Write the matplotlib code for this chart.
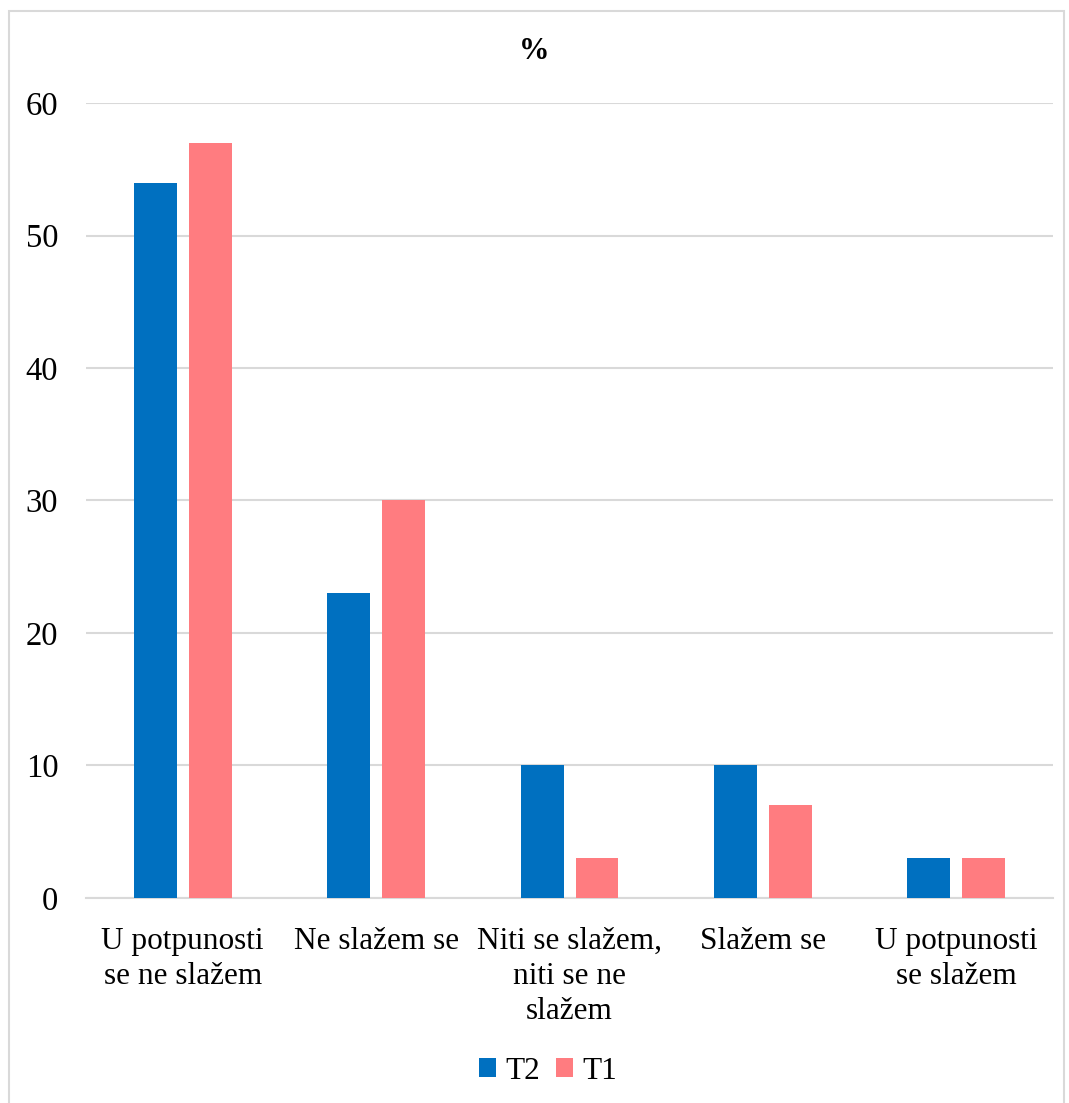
import matplotlib.pyplot as plt
import numpy as np
from matplotlib.patches import Rectangle

categories = ['U potpunosti\nse ne slažem', 'Ne slažem se',
              'Niti se slažem,\nniti se ne\nslažem', 'Slažem se',
              'U potpunosti\nse slažem']
t2_values = [54, 23, 10, 10, 3]
t1_values = [57, 30, 3, 7, 3]
y_ticks = [0, 10, 20, 30, 40, 50, 60]

plt.rcParams['font.family'] = ['Liberation Serif', 'DejaVu Serif']

fig = plt.figure(figsize=(10.69, 11.03), dpi=100)
ax = fig.add_axes([0.0805, 0.1859, 0.9045, 0.7207])

x = np.arange(len(categories))
width = 0.222
offset = 0.142
ax.bar(x - offset, t2_values, width, color='#0070C0', label='T2', zorder=3)
ax.bar(x + offset, t1_values, width, color='#FF7C80', label='T1', zorder=3)

ax.set_xlim(-0.5, len(categories) - 0.5)
ax.set_ylim(0, 60)
ax.set_yticks(y_ticks)
ax.yaxis.grid(True, color='#D9D9D9', linewidth=1.5, zorder=0)
for side in ['top', 'right', 'left']:
    ax.spines[side].set_visible(False)
ax.spines['bottom'].set_color('#D9D9D9')
ax.spines['bottom'].set_linewidth(1.5)
ax.tick_params(axis='y', length=0, pad=20, labelsize=23.5)
ax.tick_params(axis='x', length=0, pad=21, labelsize=22.5)
ax.set_xticks(x)
ax.set_xticklabels(categories, linespacing=1.28, va='top')

fig.text(0.5, 0.953, '%', ha='center', va='center', fontsize=22,
         fontweight='bold')

fig.legend(loc='center', bbox_to_anchor=(0.513, 0.029), ncol=2,
           frameon=False, fontsize=22.5, handlelength=0.55,
           handleheight=0.55, handletextpad=0.3, columnspacing=0.5)

fig.add_artist(Rectangle((9 / 1069, -0.01), 1055 / 1069, 1 - 11 / 1103 + 0.01,
                         transform=fig.transFigure, fill=False,
                         edgecolor='#D9D9D9', linewidth=1.5))

fig.savefig('out.png', dpi=100)
